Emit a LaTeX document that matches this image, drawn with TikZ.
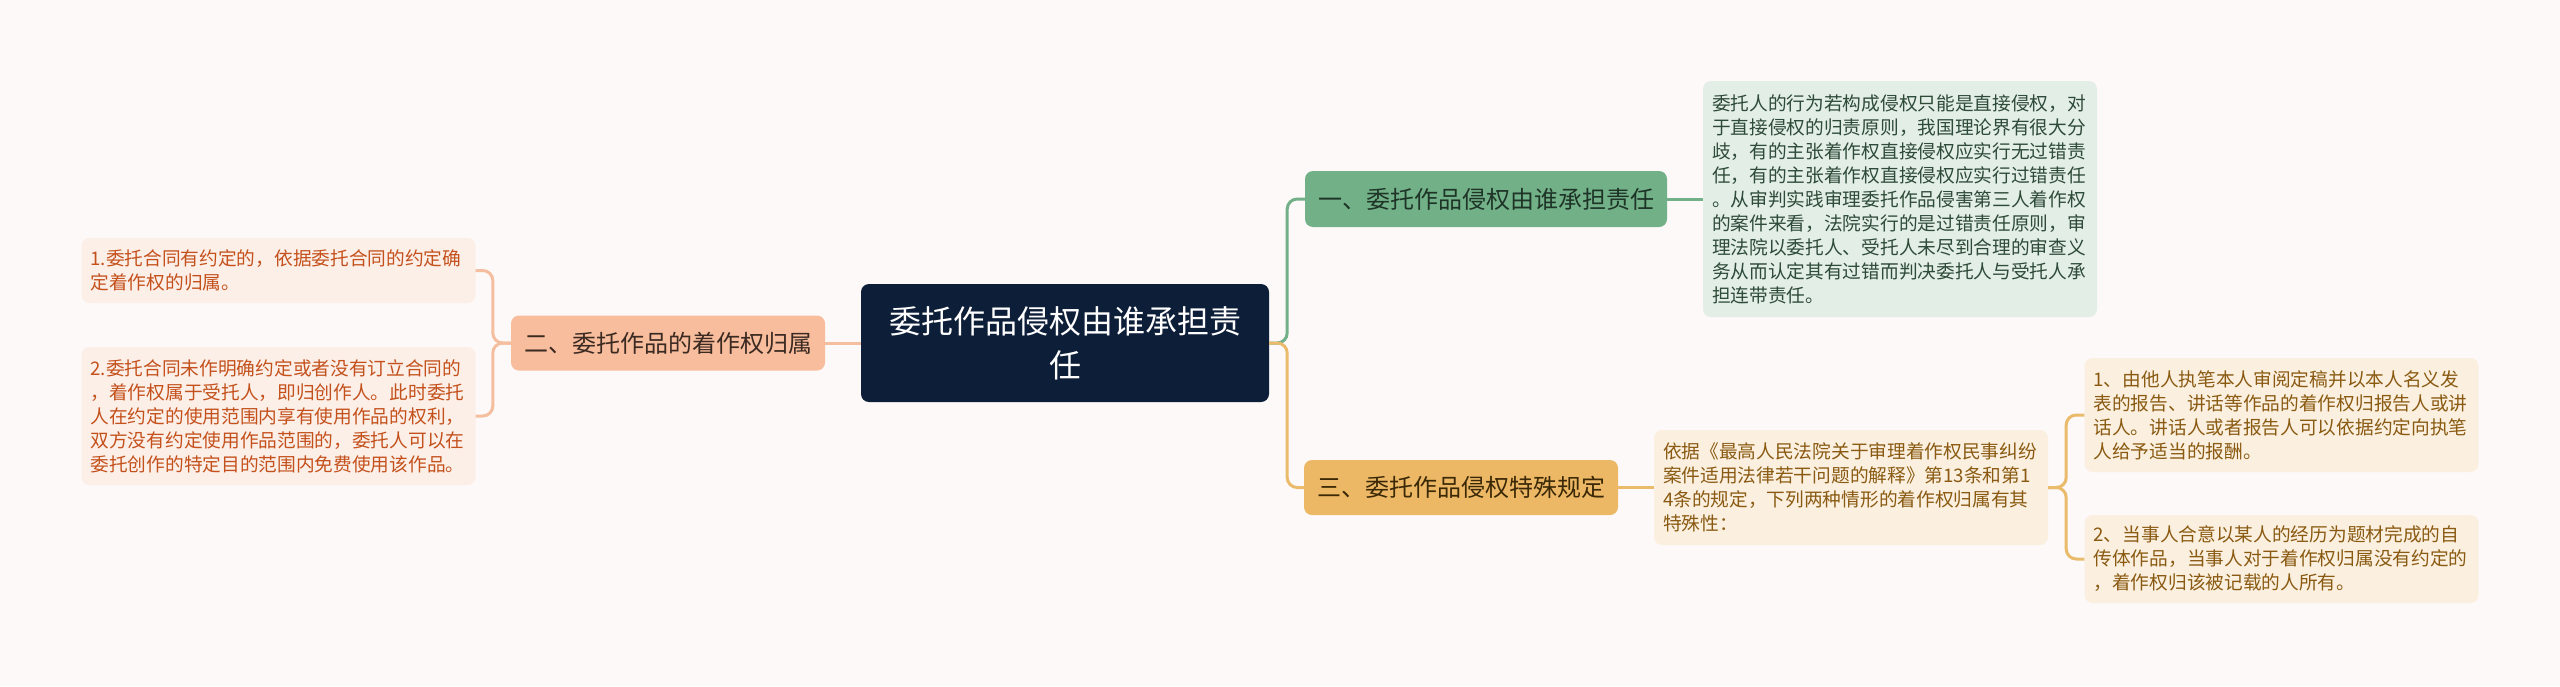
\documentclass[tikz,border=0pt]{standalone}
\usepackage{fontspec}
\setmainfont{Noto Sans CJK SC}
\definecolor{bg}{HTML}{FDF9F8}
\definecolor{rootfill}{HTML}{0D1E38}
\definecolor{pfill}{HTML}{F8BD9C}
\definecolor{ptext}{HTML}{3A2A22}
\definecolor{plfill}{HTML}{FCEFE8}
\definecolor{pltext}{HTML}{C4511C}
\definecolor{pline}{HTML}{F5BE9F}
\definecolor{gfill}{HTML}{72B088}
\definecolor{gtext}{HTML}{1E3426}
\definecolor{glfill}{HTML}{E2EEE6}
\definecolor{gltext}{HTML}{2E4A38}
\definecolor{gline}{HTML}{72B088}
\definecolor{yfill}{HTML}{EDB865}
\definecolor{ytext}{HTML}{3A2806}
\definecolor{ylfill}{HTML}{FBF0DF}
\definecolor{yltext}{HTML}{8A5A12}
\definecolor{yline}{HTML}{E9BB6B}
\tikzset{
  rootbox/.style={fill=rootfill, text=white, rounded corners=8pt, inner sep=0pt, align=center,
    minimum width=408pt, minimum height=118pt, font=\fontsize{32}{44}\selectfont},
  branchbox/.style={rounded corners=8pt, inner sep=0pt, align=center,
    minimum height=55pt, font=\fontsize{24}{30}\selectfont},
  leafbox/.style={rounded corners=8pt, inner xsep=9pt, inner ysep=0pt, align=left,
    text width=376pt, font=\fontsize{18.7}{24}\selectfont},
  pleaf/.style={leafbox, fill=plfill, text=pltext},
  gleaf/.style={leafbox, fill=glfill, text=gltext},
  yleaf/.style={leafbox, fill=ylfill, text=yltext},
  conn/.style={line width=3pt, rounded corners=10pt},
}
\begin{document}
\begin{tikzpicture}[x=1pt,y=-1pt]
\useasboundingbox[fill=bg] (0,0) rectangle (2560,686);
% root
\node[rootbox] (root) at (1065,343) {委托作品侵权由谁承担责\\任};
% branches
\node[branchbox, fill=pfill, text=ptext, minimum width=314pt] (b2) at (668,343) {二、委托作品的着作权归属};
\node[branchbox, fill=gfill, text=gtext, minimum width=362pt, minimum height=56pt] (b1) at (1486,199) {一、委托作品侵权由谁承担责任};
\node[branchbox, fill=yfill, text=ytext, minimum width=314pt] (b3) at (1461,487.5) {三、委托作品侵权特殊规定};
% left leaves
\node[pleaf, minimum height=65pt] (l1) at (278.5,270.5) {1.委托合同有约定的，依据委托合同的约定确\\定着作权的归属。};
\node[pleaf, minimum height=138pt] (l2) at (278.5,416) {2.委托合同未作明确约定或者没有订立合同的\\，着作权属于受托人，即归创作人。此时委托\\人在约定的使用范围内享有使用作品的权利，\\双方没有约定使用作品范围的，委托人可以在\\委托创作的特定目的范围内免费使用该作品。};
% green leaf
\node[gleaf, minimum height=236pt] (g1) at (1900,199) {委托人的行为若构成侵权只能是直接侵权，对\\于直接侵权的归责原则，我国理论界有很大分\\歧，有的主张着作权直接侵权应实行无过错责\\任，有的主张着作权直接侵权应实行过错责任\\。从审判实践审理委托作品侵害第三人着作权\\的案件来看，法院实行的是过错责任原则，审\\理法院以委托人、受托人未尽到合理的审查义\\务从而认定其有过错而判决委托人与受托人承\\担连带责任。};
% gold leaves
\node[yleaf, minimum height=115pt] (y0) at (1851,487.5) {依据《最高人民法院关于审理着作权民事纠纷\\案件适用法律若干问题的解释》第13条和第1\\4条的规定，下列两种情形的着作权归属有其\\特殊性：};
\node[yleaf, minimum height=114pt] (y1) at (2281.5,415) {1、由他人执笔本人审阅定稿并以本人名义发\\表的报告、讲话等作品的着作权归报告人或讲\\话人。讲话人或者报告人可以依据约定向执笔\\人给予适当的报酬。};
\node[yleaf, minimum height=88pt] (y2) at (2281.5,559) {2、当事人合意以某人的经历为题材完成的自\\传体作品，当事人对于着作权归属没有约定的\\，着作权归该被记载的人所有。};
% connectors
\draw[conn, pline] (root.west) -- (b2.east);
\draw[conn, pline] (b2.west) -- ++(-18,0) |- (l1.east);
\draw[conn, pline] (b2.west) -- ++(-18,0) |- (l2.east);
\draw[conn, gline] (root.east) -- ++(18,0) |- (b1.west);
\draw[conn, yline] (root.east) -- ++(18,0) |- (b3.west);
\draw[conn, gline] (b1.east) -- (g1.west);
\draw[conn, yline] (b3.east) -- (y0.west);
\draw[conn, yline] (y0.east) -- ++(18,0) |- (y1.west);
\draw[conn, yline] (y0.east) -- ++(18,0) |- (y2.west);
\end{tikzpicture}
\end{document}
